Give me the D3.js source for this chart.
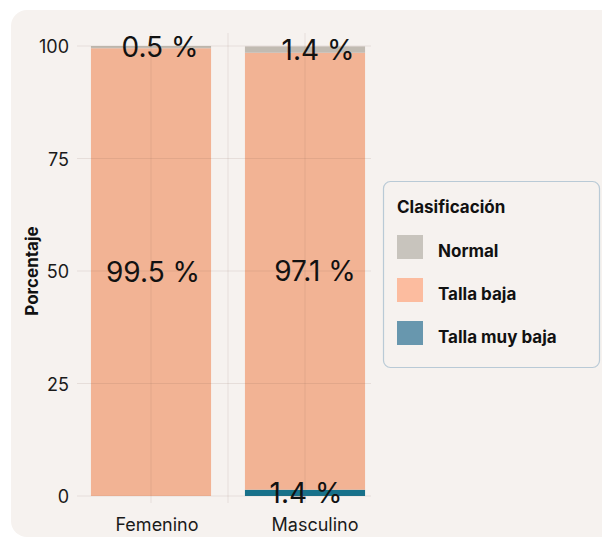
<!DOCTYPE html>
<html>
<head>
<meta charset="utf-8">
<script src="https://cdn.jsdelivr.net/npm/d3@7"></script>
<style>
  html, body { margin: 0; padding: 0; background: #ffffff; }
  svg { display: block; font-family: Inter, "Noto Sans", sans-serif; }
</style>
</head>
<body>
<svg id="chart" width="602" height="539"></svg>
<script>
// Categories, classes and stacked percentages (bottom to top)
const categories = ["Femenino", "Masculino"];
const classes = ["Talla muy baja", "Talla baja", "Normal"];
const tallaMuyBaja = [0, 1.4];
const tallaBaja = [99.5, 97.1];
const normal = [0.5, 1.4];
const yTicks = [0, 25, 50, 75, 100];
const legendOrder = ["Normal", "Talla baja", "Talla muy baja"];

const barColor = { "Normal": "#c1bbb2", "Talla baja": "#f2b394", "Talla muy baja": "#17718a" };
const keyColor = { "Normal": "#c8c4bd", "Talla baja": "#fcbc9f", "Talla muy baja": "#6897ae" };

const svg = d3.select("#chart");

// Panel background
svg.append("rect")
  .attr("x", 11).attr("y", 10).attr("width", 620).attr("height", 527)
  .attr("rx", 16).attr("fill", "#f6f2ef");

const panel = { left: 77, right: 371, top: 33, bottom: 503 };

const x = d3.scaleBand()
  .domain(categories)
  .range([74, 382])
  .paddingInner(0.22)
  .paddingOuter(0.11);

const y = d3.scaleLinear().domain([0, 100]).range([496, 46]);

// Build stacked table
const table = categories.map((c, i) => ({
  cat: c,
  "Talla muy baja": tallaMuyBaja[i],
  "Talla baja": tallaBaja[i],
  "Normal": normal[i]
}));
const series = d3.stack().keys(classes)(table);

const g = svg.append("g");

// Bars
series.forEach(s => {
  g.selectAll(null)
    .data(s)
    .join("rect")
    .attr("x", d => x(d.data.cat))
    .attr("width", x.bandwidth())
    .attr("y", d => y(d[1]))
    .attr("height", d => y(d[0]) - y(d[1]))
    .attr("fill", barColor[s.key]);
});

// Grid lines drawn over the bars
const gridColor = "rgba(120, 95, 80, 0.13)";
const grid = svg.append("g");
grid.selectAll(null).data(yTicks).join("line")
  .attr("x1", panel.left).attr("x2", panel.right)
  .attr("y1", d => y(d)).attr("y2", d => y(d))
  .attr("stroke", gridColor).attr("stroke-width", 1);
const centers = categories.map(c => x(c) + x.bandwidth() / 2);
const vlines = [centers[0], (centers[0] + centers[1]) / 2, centers[1]];
grid.selectAll(null).data(vlines).join("line")
  .attr("x1", d => d).attr("x2", d => d)
  .attr("y1", panel.top).attr("y2", panel.bottom)
  .attr("stroke", gridColor).attr("stroke-width", 1);

// Y axis tick labels
const yAxis = d3.axisLeft(y).tickValues(yTicks).tickSize(0).tickPadding(0);
const ya = svg.append("g").attr("transform", "translate(69,1)").call(yAxis);
ya.select(".domain").remove();
ya.selectAll("text")
  .attr("font-size", 18).attr("fill", "#1a1a1a")
  .attr("font-family", "Inter, sans-serif");

// X axis labels
const xLabelNudge = { "Femenino": 6, "Masculino": 10 };
const xAxis = d3.axisBottom(x).tickSize(0).tickPadding(0);
const xa = svg.append("g").attr("transform", "translate(0,518)").call(xAxis);
xa.select(".domain").remove();
xa.selectAll("text")
  .attr("x", d => xLabelNudge[d])
  .attr("font-size", 18).attr("fill", "#1a1a1a")
  .attr("font-family", "Inter, sans-serif");

// Y axis title
svg.append("text")
  .attr("transform", "translate(38,271) rotate(-90)")
  .attr("text-anchor", "middle")
  .attr("font-size", 17).attr("font-weight", 700).attr("fill", "#111")
  .text("Porcentaje");

// Value labels at the middle of each non-empty segment
const labelNudge = {
  "Femenino|Normal": 9, "Femenino|Talla baja": 2,
  "Masculino|Normal": 13, "Masculino|Talla baja": 10, "Masculino|Talla muy baja": 1
};
series.forEach(s => {
  g.selectAll(null)
    .data(s.filter(d => d.data[s.key] > 0))
    .join("text")
    .attr("x", d => x(d.data.cat) + x.bandwidth() / 2 + (labelNudge[d.data.cat + "|" + s.key] || 0))
    .attr("y", d => y((d[0] + d[1]) / 2))
    .attr("dy", "0.36em")
    .attr("text-anchor", "middle")
    .attr("font-size", 28).attr("fill", "#111")
    .text(d => d3.format(".1f")(d.data[s.key]) + " %");
});

// Legend
const lg = svg.append("g");
lg.append("rect")
  .attr("x", 383.5).attr("y", 181.5).attr("width", 216).attr("height", 186)
  .attr("rx", 7).attr("fill", "#f6f2ef").attr("stroke", "#b9cad6").attr("stroke-width", 1.2);
lg.append("text")
  .attr("x", 397).attr("y", 213)
  .attr("font-size", 17).attr("font-weight", 700).attr("fill", "#111")
  .text("Clasificación");
const items = lg.selectAll(null).data(legendOrder).join("g")
  .attr("transform", (d, i) => `translate(397,${235 + i * 43})`);
items.append("rect")
  .attr("width", 26).attr("height", 24)
  .attr("fill", d => keyColor[d]);
items.append("text")
  .attr("x", 41).attr("y", 22)
  .attr("font-size", 17).attr("font-weight", 700).attr("fill", "#111")
  .text(d => d);
</script>
</body>
</html>
